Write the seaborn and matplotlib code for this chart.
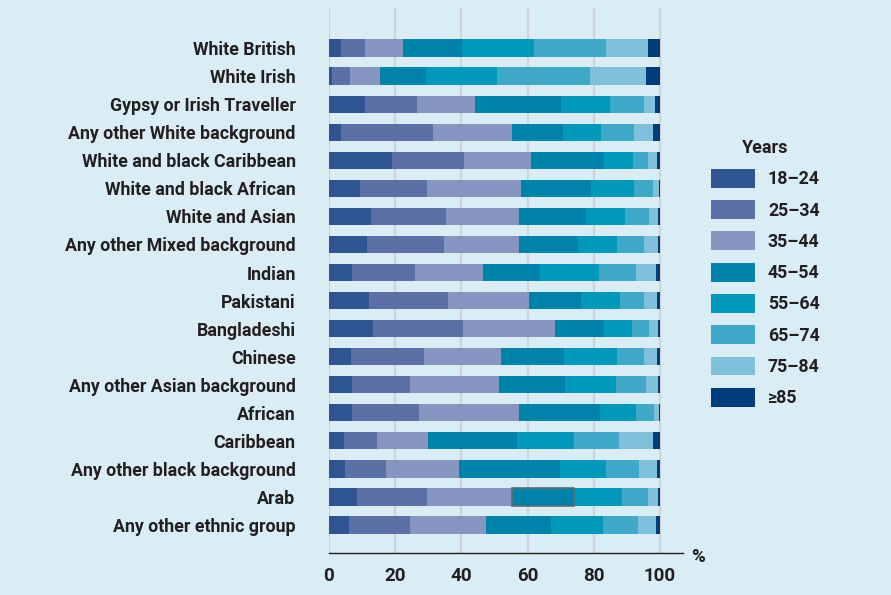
import numpy as np
import pandas as pd
import matplotlib
matplotlib.use("Agg")
import matplotlib.pyplot as plt
from matplotlib.patches import Patch
import seaborn as sns

# Ethnic groups, top to bottom
groups = ["White British", "White Irish", "Gypsy or Irish Traveller",
          "Any other White background", "White and black Caribbean",
          "White and black African", "White and Asian",
          "Any other Mixed background", "Indian", "Pakistani", "Bangladeshi",
          "Chinese", "Any other Asian background", "African", "Caribbean",
          "Any other black background", "Arab", "Any other ethnic group"]

age_bands = ["18–24", "25–34", "35–44", "45–54", "55–64", "65–74", "75–84", "≥85"]

# share (%) of each age band within each group
age_18_24 = [3.5, 0.8, 10.8, 3.5, 19.1, 9.5, 12.6, 11.5, 6.9, 12.0, 13.2, 6.6, 6.9, 6.9, 4.6, 4.9, 8.4, 5.9]
age_25_34 = [7.5, 5.5, 15.7, 27.9, 21.6, 20.0, 22.7, 23.2, 19.0, 23.9, 27.3, 22.0, 17.5, 20.2, 9.8, 12.3, 21.3, 18.5]
age_35_44 = [11.3, 9.0, 17.6, 24.1, 20.5, 28.5, 22.1, 22.6, 20.6, 24.6, 27.7, 23.3, 26.9, 30.3, 15.4, 22.0, 25.6, 23.0]
age_45_54 = [17.8, 14.1, 25.9, 15.3, 21.8, 21.1, 20.2, 18.1, 17.2, 15.6, 14.8, 19.1, 20.0, 24.4, 27.0, 30.5, 18.9, 19.6]
age_55_64 = [21.8, 21.3, 14.9, 11.6, 8.8, 13.2, 11.8, 11.6, 17.8, 11.8, 8.5, 16.2, 15.3, 10.9, 17.2, 14.1, 14.5, 15.7]
age_65_74 = [21.9, 28.1, 10.3, 9.8, 4.5, 5.5, 7.2, 8.2, 11.2, 7.3, 5.3, 8.0, 9.3, 5.4, 13.7, 9.8, 7.6, 10.7]
age_75_84 = [12.5, 17.1, 3.2, 5.9, 2.8, 1.9, 2.7, 4.3, 6.1, 3.9, 2.7, 3.8, 3.4, 1.7, 10.2, 5.4, 3.0, 5.3]
age_85_up = [3.7, 4.1, 1.6, 2.0, 0.9, 0.3, 0.7, 0.5, 1.2, 0.9, 0.5, 1.0, 0.7, 0.2, 2.1, 1.0, 0.7, 1.3]

colors = ["#2e5591", "#5a70a6", "#8796c0", "#0083aa",
          "#0098bb", "#3fa9c9", "#7fc0da", "#003d7c"]

bg = "#daecf4"
ink = "#231f20"

df = pd.DataFrame({"group": groups})
series = [age_18_24, age_25_34, age_35_44, age_45_54,
          age_55_64, age_65_74, age_75_84, age_85_up]
for band, vals in zip(age_bands, series):
    df[band] = vals
# normalise each row to 100 and build cumulative ends
vals = df[age_bands].to_numpy()
vals = vals / vals.sum(axis=1, keepdims=True) * 100
cum = np.cumsum(vals, axis=1)
for i, band in enumerate(age_bands):
    df["cum_" + band] = cum[:, i]

sns.set_style("white")
plt.rcParams["font.family"] = ["Roboto", "DejaVu Sans"]
plt.rcParams["font.weight"] = "bold"

fig = plt.figure(figsize=(8.91, 5.95), dpi=100, facecolor=bg)
ax = fig.add_axes([329 / 891, 42 / 595, 354 / 891, 545 / 595])
ax.set_facecolor(bg)

# gridlines behind bars
for v in range(0, 101, 20):
    ax.axvline(v, color="#cfd3d8", lw=1.6, zorder=0)

# stacked bars: draw cumulative totals from the last band backwards
for i in range(len(age_bands) - 1, -1, -1):
    sns.barplot(data=df, x="cum_" + age_bands[i], y="group", color=colors[i],
                width=0.62, saturation=1, ax=ax, zorder=2, linewidth=0)

# outlined segment for Arab 45-54
k = groups.index("Arab")
ax.barh(k, vals[k, 3], left=cum[k, 2], height=0.62, fill=False,
        edgecolor="#5f6b72", linewidth=1.2, zorder=3)

ax.set_xlim(0, 107)
ax.set_ylim(len(groups), -1.43)
ax.set_xlabel("")
ax.set_ylabel("")
ax.set_xticks(range(0, 101, 20))
ax.tick_params(axis="x", direction="out", length=5, width=1.2, color=ink,
               labelsize=13.5, labelcolor=ink, pad=5)
ax.tick_params(axis="y", length=0, labelsize=12.8, labelcolor=ink, pad=24)
for lab in ax.get_xticklabels() + ax.get_yticklabels():
    lab.set_fontweight("bold")

for s in ["left", "top", "right"]:
    ax.spines[s].set_visible(False)
ax.spines["bottom"].set_color(ink)
ax.spines["bottom"].set_linewidth(1.0)

fig.text(698 / 891, 1 - 557 / 595, "%", fontsize=13.5, fontweight="bold",
         color=ink, ha="center", va="center")

handles = [Patch(facecolor=c, edgecolor="none") for c in colors]
leg = fig.legend(handles, age_bands, title="Years", loc="upper left",
                 bbox_to_anchor=(711 / 891, 1 - 139 / 595), frameon=False,
                 fontsize=12.8, title_fontproperties={"weight": "bold", "size": 13},
                 handlelength=2.45, handleheight=1.25, labelspacing=0.67,
                 handletextpad=0.75, borderpad=0, borderaxespad=0)
for t in leg.get_texts():
    t.set_color(ink)
    t.set_fontweight("bold")
leg.get_title().set_color(ink)

fig.savefig("out.png", dpi=100, facecolor=bg)
